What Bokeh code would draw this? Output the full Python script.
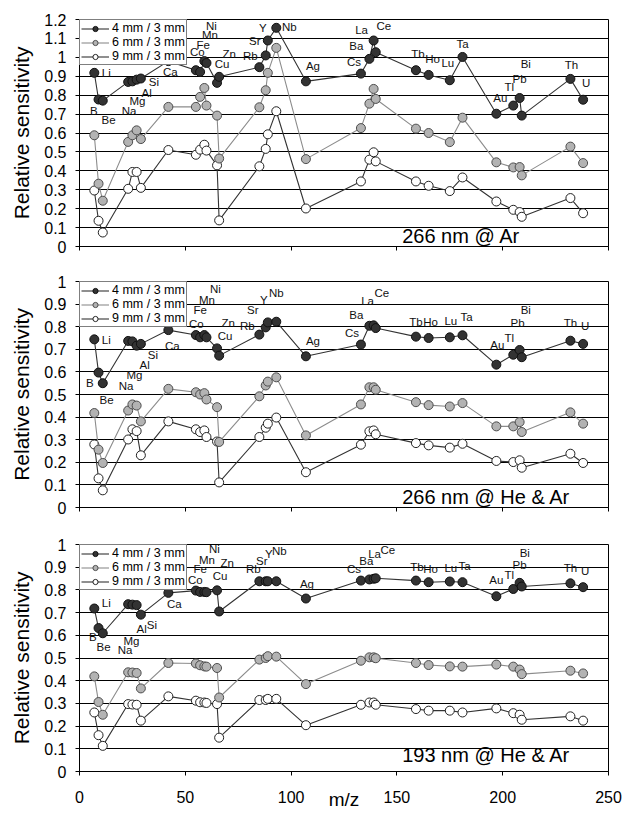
from bokeh.plotting import figure
from bokeh.layouts import column
from bokeh.models import (Range1d, FixedTicker, NumeralTickFormatter, Legend,
                          LegendItem, Label, ColumnDataSource)
from bokeh.core.properties import value
from bokeh.embed import file_html
from bokeh.resources import INLINE

# ---------------- data ----------------
elements = ["Li", "Be", "B", "Na", "Mg", "Al", "Si", "Ca", "Mn", "Fe", "Co", "Ni",
            "Cu", "Zn", "Rb", "Sr", "Y", "Nb", "Ag", "Cs", "Ba", "La", "Ce", "Tb",
            "Ho", "Lu", "Ta", "Au", "Tl", "Pb", "Bi", "Th", "U"]
mz = [7, 9, 11, 23, 25, 27, 29, 42, 55, 57, 59, 60, 65, 66, 85, 88, 89, 93, 107,
      133, 137, 139, 140, 159, 165, 175, 181, 197, 205, 208, 209, 232, 238]
x_ticks = [0, 50, 100, 150, 200, 250]
series_names = ["4 mm / 3 mm", "6 mm / 3 mm", "9 mm / 3 mm"]
panel_titles = ["266 nm @ Ar", "266 nm @ He & Ar", "193 nm @ He & Ar"]
x_label = "m/z"
y_label = "Relative sensitivity"

ar266_4mm = [0.918, 0.777, 0.771, 0.870, 0.873, 0.882, 0.888, 0.980, 0.932, 0.923, 0.980, 0.970,
             0.865, 0.897, 0.948, 1.010, 1.089, 1.156, 0.873, 0.914, 0.992, 1.089, 1.027, 0.932,
             0.907, 0.879, 1.002, 0.702, 0.745, 0.785, 0.692, 0.886, 0.776]
ar266_6mm = [0.588, 0.332, 0.242, 0.553, 0.588, 0.614, 0.568, 0.738, 0.738, 0.791, 0.838, 0.745,
             0.692, 0.465, 0.736, 0.826, 0.918, 1.050, 0.462, 0.626, 0.755, 0.833, 0.780, 0.623,
             0.600, 0.552, 0.681, 0.445, 0.418, 0.420, 0.376, 0.528, 0.441]
ar266_9mm = [0.296, 0.136, 0.074, 0.305, 0.394, 0.394, 0.310, 0.510, 0.485, 0.512, 0.538, 0.507,
             0.429, 0.138, 0.424, 0.516, 0.593, 0.715, 0.201, 0.344, 0.459, 0.498, 0.450, 0.344,
             0.321, 0.293, 0.365, 0.238, 0.194, 0.182, 0.157, 0.256, 0.176]

heat266_4mm = [0.744, 0.597, 0.550, 0.737, 0.735, 0.716, 0.724, 0.785, 0.763, 0.753, 0.763, 0.753,
               0.704, 0.672, 0.765, 0.797, 0.819, 0.822, 0.669, 0.721, 0.804, 0.806, 0.794, 0.756,
               0.750, 0.753, 0.762, 0.632, 0.676, 0.697, 0.665, 0.738, 0.724]
heat266_6mm = [0.418, 0.256, 0.197, 0.429, 0.456, 0.451, 0.381, 0.525, 0.510, 0.500, 0.506, 0.478,
               0.444, 0.290, 0.492, 0.540, 0.557, 0.576, 0.319, 0.456, 0.532, 0.532, 0.521, 0.466,
               0.453, 0.447, 0.462, 0.359, 0.359, 0.378, 0.334, 0.421, 0.371]
heat266_9mm = [0.279, 0.129, 0.076, 0.301, 0.346, 0.338, 0.231, 0.381, 0.346, 0.334, 0.341, 0.312,
               0.292, 0.111, 0.312, 0.353, 0.371, 0.398, 0.156, 0.278, 0.337, 0.341, 0.324, 0.285,
               0.275, 0.265, 0.282, 0.206, 0.201, 0.209, 0.176, 0.238, 0.197]

heat193_4mm = [0.718, 0.632, 0.609, 0.737, 0.735, 0.733, 0.691, 0.787, 0.797, 0.791, 0.791, 0.790,
               0.798, 0.705, 0.838, 0.838, 0.838, 0.838, 0.762, 0.841, 0.846, 0.849, 0.851, 0.841,
               0.834, 0.837, 0.834, 0.772, 0.804, 0.831, 0.815, 0.829, 0.812]
heat193_6mm = [0.419, 0.306, 0.250, 0.437, 0.436, 0.434, 0.366, 0.478, 0.476, 0.468, 0.463, 0.462,
               0.456, 0.326, 0.493, 0.500, 0.508, 0.506, 0.385, 0.488, 0.503, 0.503, 0.499, 0.478,
               0.469, 0.463, 0.462, 0.471, 0.462, 0.449, 0.429, 0.444, 0.432]
heat193_9mm = [0.260, 0.160, 0.113, 0.297, 0.295, 0.294, 0.224, 0.331, 0.312, 0.305, 0.304, 0.302,
               0.297, 0.149, 0.315, 0.315, 0.320, 0.320, 0.204, 0.294, 0.304, 0.304, 0.294, 0.275,
               0.268, 0.268, 0.260, 0.278, 0.257, 0.250, 0.228, 0.243, 0.224]

# ---------------- styling / label placement (pixel offsets from the 4 mm points) ----------------
FONT = "Liberation Sans"
STYLES = [
    dict(fill="#333333", line="#333333", outline="#111111"),
    dict(fill="#b3b3b3", line="#8c8c8c", outline="#4d4d4d"),
    dict(fill="#ffffff", line="#333333", outline="#222222"),
]
OFFSETS = [
    [(12, 0), (10, 20), (-9, 10), (1, 29), (5, 20), (10, 13), (13, 3), (2, 11), (14, -35), (3, -27),
     (-7, -9), (5, -37), (5, -19), (10, -23), (-9, -11), (-11, -14), (-5, -12), (13, -1), (7, -15),
     (-7, -12), (-13, -13), (-12, -10), (8, -26), (2, -16), (4, -16), (-2, -17), (0, -13), (4, -16),
     (-4, -19), (0, -19), (4, -52), (1, -14), (3, -17)],
    [(12, 1), (8, 27), (-13, 0), (-2, 45), (2, 34), (8, 19), (12, 11), (4, 16), (11, -35), (0, -27),
     (-8, -11), (9, -48), (8, -12), (9, -33), (-12, -9), (-13, -17), (-4, -22), (0, -29), (7, -15),
     (-9, -12), (-13, -11), (-6, -24), (6, -35), (0, -15), (2, -16), (1, -16), (4, -18), (1, -20),
     (-4, -17), (-2, -27), (4, -47), (0, -18), (2, -18)],
    [(12, -6), (5, 19), (-10, 4), (-3, 46), (-1, 36), (5, 24), (11, 10), (6, 11), (11, -31), (0, -23),
     (-9, -12), (8, -43), (3, -14), (8, -48), (-6, -12), (-4, -20), (1, -27), (3, -30), (1, -15),
     (-7, -12), (-3, -18), (1, -25), (12, -28), (1, -14), (2, -13), (1, -14), (2, -16), (0, -16),
     (-4, -14), (0, -18), (3, -33), (0, -15), (2, -16)],
]
PANELS = [
    dict(series=[ar266_4mm, ar266_6mm, ar266_9mm], ymax=1.2, height=263, top=19, bottom=17, note_y=0.0, last=False),
    dict(series=[heat266_4mm, heat266_6mm, heat266_9mm], ymax=1.0, height=261, top=18, bottom=17, note_y=0.0, last=False),
    dict(series=[heat193_4mm, heat193_6mm, heat193_9mm], ymax=1.0, height=290, top=20, bottom=43, note_y=0.025, last=True),
]


def build(idx, spec):
    ymax = spec["ymax"]
    p = figure(width=623, height=spec["height"], x_range=Range1d(0, 250), y_range=Range1d(0, ymax),
               output_backend="svg", toolbar_location=None,
               min_border_left=79, min_border_right=15,
               min_border_top=spec["top"], min_border_bottom=spec["bottom"],
               background_fill_color="white", border_fill_color="white")
    p.outline_line_color = "black"
    p.outline_line_width = 1
    p.outline_line_alpha = 1

    yt = [i / 10 for i in range(int(round(ymax * 10)) + 1)]
    p.yaxis.ticker = FixedTicker(ticks=yt)
    p.yaxis.formatter = NumeralTickFormatter(format="0.[0]")
    p.ygrid.ticker = FixedTicker(ticks=yt)
    p.ygrid.grid_line_color = "black"
    p.ygrid.grid_line_width = 1
    p.xgrid.visible = False

    p.xaxis.ticker = FixedTicker(ticks=x_ticks)
    for ax in (p.xaxis[0], p.yaxis[0]):
        ax.axis_line_color = "black"
        ax.major_tick_line_color = "black"
        ax.major_tick_out = 4
        ax.major_tick_in = 0
        ax.minor_tick_line_color = None
        ax.major_label_text_font = FONT
        ax.major_label_text_font_size = "16px"
        ax.major_label_text_color = "black"
    p.yaxis.major_label_standoff = 9
    p.yaxis.axis_label = y_label
    p.yaxis.axis_label_text_font = FONT
    p.yaxis.axis_label_text_font_size = "21px"
    p.yaxis.axis_label_text_font_style = "normal"
    p.yaxis.axis_label_text_color = "black"
    p.yaxis.axis_label_standoff = 8
    if spec["last"]:
        p.xaxis.major_label_standoff = 15
        p.xaxis.axis_label = x_label
        p.xaxis.axis_label_text_font = FONT
        p.xaxis.axis_label_text_font_size = "19px"
        p.xaxis.axis_label_text_font_style = "normal"
        p.xaxis.axis_label_text_color = "black"
        p.xaxis.axis_label_standoff = -17
    else:
        p.xaxis.major_label_overrides = {t: "" for t in x_ticks}
        p.xaxis.major_label_standoff = 0

    rends = []
    for vals, st in list(zip(spec["series"], STYLES))[::-1]:
        ln = p.line(mz, vals, line_color=st["line"], line_width=1.1)
        sc = p.scatter(mz, vals, marker="circle", size=9, fill_color=st["fill"],
                       line_color=st["outline"], line_width=1)
        rends.append((ln, sc))
    rends = rends[::-1]

    dx = [o[0] for o in OFFSETS[idx]]
    dy = [o[1] for o in OFFSETS[idx]]
    src = ColumnDataSource(dict(x=mz, y=spec["series"][0], text=elements, dx=dx, dy=dy))
    p.text(x="x", y="y", text="text", x_offset="dx", y_offset="dy", source=src,
           text_align="center", text_baseline="middle", text_font=value(FONT),
           text_font_size="11.5px", text_color="#111111")

    legend = Legend(items=[LegendItem(label=n, renderers=list(r)) for n, r in zip(series_names, rends)],
                    location="top_left", margin=0, padding=1, spacing=0,
                    glyph_width=28, glyph_height=13, label_height=13, label_standoff=3,
                    label_text_font=FONT, label_text_font_size="12.5px", label_text_color="black",
                    border_line_color="black", border_line_width=1,
                    background_fill_color="white", background_fill_alpha=1)
    p.add_layout(legend)

    p.add_layout(Label(x=152.5, y=spec["note_y"], text=panel_titles[idx], text_font=FONT,
                       text_font_size="20px", text_align="left", text_baseline="bottom",
                       text_color="black"))
    return p


figs = [build(i, s) for i, s in enumerate(PANELS)]
layout = column(*figs, spacing=0)
open("out.html", "w").write(file_html(layout, INLINE))
